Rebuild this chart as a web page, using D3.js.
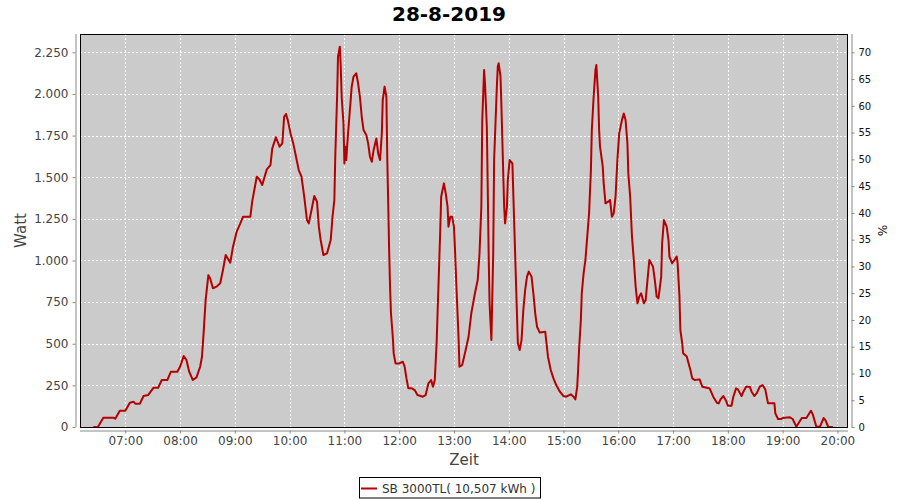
<!DOCTYPE html>
<html>
<head>
<meta charset="utf-8">
<script src="https://cdn.jsdelivr.net/npm/d3@7"></script>
<style>
  html, body { margin: 0; padding: 0; background: #fff; }
  svg { display: block; font-family: "DejaVu Sans", sans-serif; }
</style>
</head>
<body>
<svg id="chart" width="900" height="500"></svg>
<script>
// ---- data ----
const title = "28-8-2019";
const seriesName = "SB 3000TL( 10,507 kWh )";
const times = ["06:25","06:30","06:36","06:47","06:49","06:54","07:00","07:05","07:09","07:11","07:16","07:20","07:25","07:31","07:36","07:40","07:46","07:50","07:57","08:00","08:04","08:07","08:10","08:14","08:18","08:22","08:24","08:26","08:28","08:31","08:33","08:36","08:40","08:44","08:47","08:50","08:55","08:58","09:02","09:06","09:09","09:17","09:19","09:24","09:27","09:30","09:35","09:39","09:41","09:45","09:49","09:52","09:54","09:56","09:58","10:01","10:04","10:07","10:10","10:13","10:16","10:19","10:21","10:24","10:27","10:30","10:32","10:34","10:37","10:41","10:45","10:47","10:49","10:50","10:51","10:52","10:53","10:55","10:56","10:57","10:59","11:00","11:01","11:02","11:04","11:06","11:08","11:10","11:13","11:15","11:17","11:19","11:21","11:24","11:26","11:28","11:30","11:32","11:35","11:37","11:39","11:41","11:42","11:44","11:46","11:47","11:48","11:49","11:50","11:51","11:53","11:54","11:56","12:00","12:04","12:06","12:08","12:10","12:14","12:17","12:20","12:26","12:29","12:32","12:35","12:37","12:39","12:41","12:43","12:45","12:46","12:49","12:51","12:53","12:54","12:56","12:58","13:00","13:01","13:03","13:05","13:06","13:09","13:12","13:16","13:19","13:23","13:26","13:28","13:30","13:31","13:33","13:34","13:36","13:37","13:38","13:39","13:41","13:43","13:44","13:47","13:48","13:49","13:51","13:52","13:53","13:55","13:56","13:58","13:59","14:01","14:04","14:05","14:07","14:09","14:10","14:12","14:14","14:16","14:18","14:20","14:22","14:25","14:27","14:29","14:31","14:34","14:40","14:41","14:43","14:46","14:49","14:52","14:56","15:00","15:03","15:08","15:11","15:13","15:15","15:16","15:17","15:19","15:20","15:22","15:24","15:26","15:28","15:30","15:31","15:33","15:35","15:36","15:38","15:39","15:40","15:43","15:44","15:46","15:49","15:51","15:53","15:55","15:57","15:59","16:01","16:04","16:06","16:08","16:10","16:11","16:13","16:15","16:17","16:19","16:21","16:23","16:25","16:28","16:30","16:32","16:34","16:38","16:40","16:42","16:44","16:47","16:48","16:50","16:53","16:55","16:56","16:59","17:04","17:05","17:07","17:08","17:10","17:11","17:15","17:16","17:19","17:21","17:24","17:29","17:32","17:37","17:40","17:44","17:48","17:50","17:52","17:55","17:58","18:00","18:04","18:06","18:09","18:11","18:15","18:17","18:20","18:24","18:26","18:29","18:32","18:35","18:38","18:41","18:44","18:51","18:52","18:55","18:58","19:00","19:08","19:11","19:15","19:21","19:26","19:31","19:33","19:37","19:41","19:45","19:47","19:50","19:55"];
const watt = [0,0,56,56,50,98,98,146,152,140,140,186,192,236,236,282,282,332,332,362,426,402,332,282,298,362,422,582,762,912,892,833,843,863,943,1033,987,1083,1173,1223,1263,1263,1353,1503,1486,1453,1547,1573,1673,1740,1683,1703,1863,1880,1843,1763,1703,1623,1543,1503,1383,1243,1223,1303,1387,1353,1203,1123,1033,1043,1123,1263,1363,1623,1803,1983,2224,2284,2164,1983,1823,1583,1683,1603,1763,1903,2044,2104,2124,2064,1983,1863,1783,1753,1703,1623,1593,1663,1733,1643,1603,1763,1963,2044,1983,1603,1343,1063,842,683,542,442,382,382,392,362,292,232,232,222,192,182,192,262,282,242,282,503,842,1183,1383,1463,1403,1323,1203,1263,1263,1203,1083,803,542,362,372,442,542,683,803,883,1043,1323,1843,2144,2064,1803,1443,1043,743,522,1043,1603,2044,2164,2184,2104,1923,1723,1323,1223,1323,1483,1603,1583,1403,1043,683,503,462,522,703,823,903,933,903,803,683,602,567,572,522,422,342,292,252,212,186,182,196,182,166,242,342,462,643,803,923,1003,1143,1283,1543,1783,1983,2144,2174,1983,1783,1683,1563,1463,1343,1353,1363,1263,1283,1383,1603,1763,1843,1883,1843,1703,1523,1383,1143,1003,843,743,783,803,743,763,883,1003,963,883,783,773,903,1103,1243,1203,1123,1023,983,1023,983,783,582,503,443,423,403,342,292,282,286,242,236,232,182,146,142,166,186,158,128,128,182,232,226,186,212,242,242,212,186,206,242,252,226,142,142,82,48,48,54,58,48,2,54,54,98,76,0,4,54,40,0,0];
const wattTicks = [0,250,500,750,1000,1250,1500,1750,2000,2250];
const pctTicks = [0,5,10,15,20,25,30,35,40,45,50,55,60,65,70];
const hourTicks = ["07:00","08:00","09:00","10:00","11:00","12:00","13:00","14:00","15:00","16:00","17:00","18:00","19:00","20:00"];
const timeDomain = ["06:10:24","20:11:36"];
const wattMax = 2360;
const wattPerPercent = 2250 / 70;

// ---- layout ----
const svg = d3.select("#chart");
const L = 80, R = 848, T = 34, B = 427;
const parseHM = d3.timeParse("%H:%M");
const parseHMS = d3.timeParse("%H:%M:%S");
const de = d3.formatLocale({decimal: ",", thousands: ".", grouping: [3], currency: ["", "€"]});
const fmtW = de.format(",.0f");

const x = d3.scaleTime().domain(timeDomain.map(parseHMS)).range([L, R]);
const y = d3.scaleLinear().domain([0, wattMax]).range([B, T]);
const yp = d3.scaleLinear().domain([0, wattMax / wattPerPercent]).range([B, T]);

const data = times.map((t, i) => ({t: parseHM(t), v: watt[i]}));

// plot background
svg.append("rect").attr("x", L).attr("y", T).attr("width", R - L).attr("height", B - T)
  .attr("fill", "#cbcbcb");

// grid
const grid = svg.append("g").attr("stroke", "#fff").attr("stroke-width", 1).attr("stroke-dasharray", "2,2");
grid.selectAll(".gy").data(wattTicks.filter(d => d > 0)).enter().append("line")
  .attr("x1", L).attr("x2", R).attr("y1", d => Math.round(y(d)) + 0.5).attr("y2", d => Math.round(y(d)) + 0.5);
grid.selectAll(".gx").data(hourTicks.map(parseHM)).enter().append("line")
  .attr("y1", T).attr("y2", B).attr("x1", d => Math.round(x(d)) + 0.5).attr("x2", d => Math.round(x(d)) + 0.5);

// line
svg.append("path").datum(data)
  .attr("fill", "none").attr("stroke", "#b40000").attr("stroke-width", 2)
  .attr("stroke-linejoin", "round")
  .attr("d", d3.line().x(d => x(d.t)).y(d => y(d.v)));

// plot outline
svg.append("rect").attr("x", L + 0.5).attr("y", T + 0.5).attr("width", R - L - 1).attr("height", B - T)
  .attr("fill", "none").attr("stroke", "#000").attr("stroke-width", 1);

// left axis
const gl = svg.append("g").attr("transform", `translate(${L - 4.5},0)`)
  .call(d3.axisLeft(y).tickValues(wattTicks).tickFormat(fmtW).tickSizeInner(3).tickSizeOuter(0).tickPadding(4));
gl.select(".domain").attr("stroke", "#888").attr("d", `M0.5,${T}V${B}`);
gl.selectAll(".tick line").attr("stroke", "#888");
gl.selectAll(".tick text").attr("fill", "#444").attr("font-size", 12).attr("font-family", "DejaVu Sans");

// right axis
const gr = svg.append("g").attr("transform", `translate(${R + 3.5},0)`)
  .call(d3.axisRight(yp).tickValues(pctTicks).tickSizeInner(3).tickSizeOuter(0).tickPadding(4));
gr.select(".domain").attr("stroke", "#888").attr("d", `M0.5,${T}V${B}`);
gr.selectAll(".tick line").attr("stroke", "#888");
gr.selectAll(".tick text").attr("fill", "#111").attr("font-size", 10).attr("font-family", "DejaVu Sans");

// bottom axis
const gb = svg.append("g").attr("transform", `translate(0,${B + 3.5})`)
  .call(d3.axisBottom(x).tickValues(hourTicks.map(parseHM)).tickFormat(d3.timeFormat("%H:%M"))
    .tickSizeInner(3).tickSizeOuter(0).tickPadding(3));
gb.select(".domain").attr("stroke", "#888").attr("d", `M${L},0.5H${R}`);
gb.selectAll(".tick line").attr("stroke", "#888");
gb.selectAll(".tick text").attr("fill", "#444").attr("font-size", 12).attr("font-family", "DejaVu Sans");

// titles
svg.append("text").attr("x", 449).attr("y", 21).attr("text-anchor", "middle")
  .attr("font-size", 20).attr("font-weight", "bold").attr("fill", "#000").text(title);
svg.append("text").attr("x", (L + R) / 2).attr("y", 465).attr("text-anchor", "middle")
  .attr("font-size", 15).attr("fill", "#444").text("Zeit");
svg.append("text").attr("transform", `translate(26,${(T + B) / 2}) rotate(-90)`).attr("text-anchor", "middle")
  .attr("font-size", 15).attr("fill", "#444").text("Watt");
svg.append("text").attr("transform", `translate(878,${(T + B) / 2}) rotate(90)`).attr("text-anchor", "middle")
  .attr("font-size", 12).attr("fill", "#111").text("%");

// legend
const lg = svg.append("g");
lg.append("rect").attr("x", 359.5).attr("y", 477.5).attr("width", 181).attr("height", 20.5)
  .attr("fill", "#fff").attr("stroke", "#000");
lg.append("line").attr("x1", 361).attr("x2", 377).attr("y1", 488.5).attr("y2", 488.5)
  .attr("stroke", "#b40000").attr("stroke-width", 2);
lg.append("text").attr("x", 382).attr("y", 492.5).attr("font-size", 12).attr("fill", "#333").text(seriesName);
</script>
</body>
</html>
